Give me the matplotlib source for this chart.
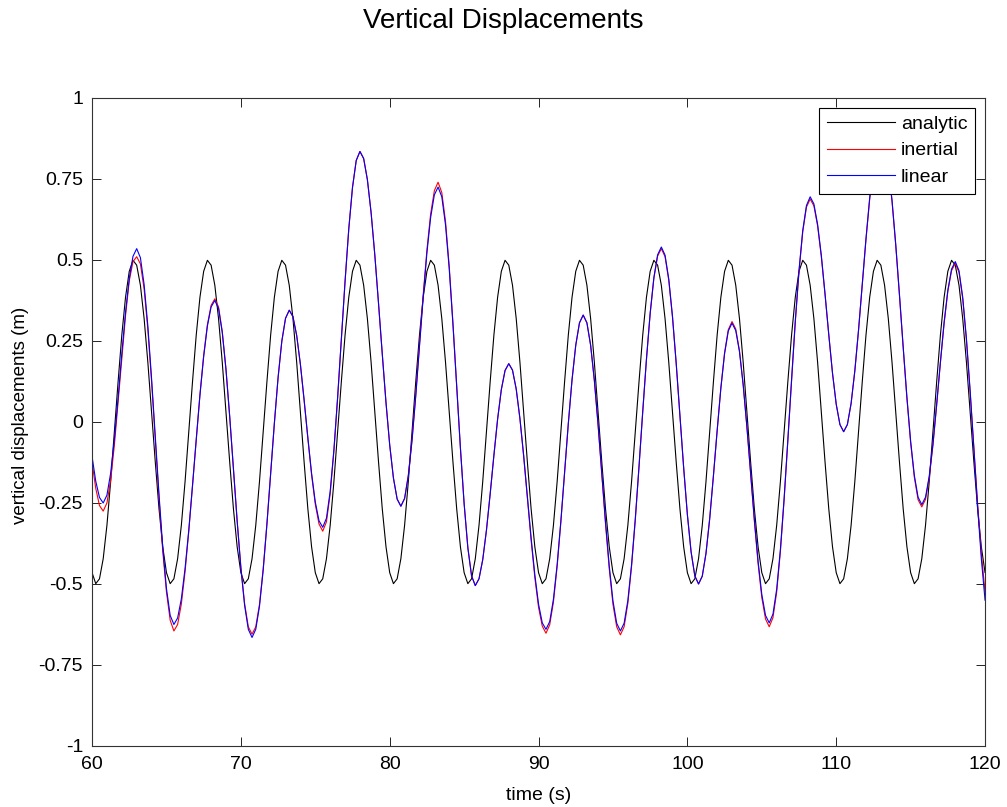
import numpy as np
import matplotlib
matplotlib.use("Agg")
import matplotlib.pyplot as plt

plt.rcParams["font.family"] = ["Liberation Sans", "DejaVu Sans"]

# time axis, 0.25 s steps from 60 to 120 s
t = np.linspace(60, 120, 241)

analytic = [
    -0.465, -0.499, -0.484, -0.422, -0.319, -0.184, -0.031, 0.124, 0.268, 0.385, 0.465, 0.499, 0.484, 0.422, 0.319, 0.184, 0.031, -0.124, -0.268, -0.385,
    -0.465, -0.499, -0.484, -0.422, -0.319, -0.184, -0.031, 0.124, 0.268, 0.385, 0.465, 0.499, 0.484, 0.422, 0.319, 0.184, 0.031, -0.124, -0.268, -0.385,
    -0.465, -0.499, -0.484, -0.422, -0.319, -0.184, -0.031, 0.124, 0.268, 0.385, 0.465, 0.499, 0.484, 0.422, 0.319, 0.184, 0.031, -0.124, -0.268, -0.385,
    -0.465, -0.499, -0.484, -0.422, -0.319, -0.184, -0.031, 0.124, 0.268, 0.385, 0.465, 0.499, 0.484, 0.422, 0.319, 0.184, 0.031, -0.124, -0.268, -0.385,
    -0.465, -0.499, -0.484, -0.422, -0.319, -0.184, -0.031, 0.124, 0.268, 0.385, 0.465, 0.499, 0.484, 0.422, 0.319, 0.184, 0.031, -0.124, -0.268, -0.385,
    -0.465, -0.499, -0.484, -0.422, -0.319, -0.184, -0.031, 0.124, 0.268, 0.385, 0.465, 0.499, 0.484, 0.422, 0.319, 0.184, 0.031, -0.124, -0.268, -0.385,
    -0.465, -0.499, -0.484, -0.422, -0.319, -0.184, -0.031, 0.124, 0.268, 0.385, 0.465, 0.499, 0.484, 0.422, 0.319, 0.184, 0.031, -0.124, -0.268, -0.385,
    -0.465, -0.499, -0.484, -0.422, -0.319, -0.184, -0.031, 0.124, 0.268, 0.385, 0.465, 0.499, 0.484, 0.422, 0.319, 0.184, 0.031, -0.124, -0.268, -0.385,
    -0.465, -0.499, -0.484, -0.422, -0.319, -0.184, -0.031, 0.124, 0.268, 0.385, 0.465, 0.499, 0.484, 0.422, 0.319, 0.184, 0.031, -0.124, -0.268, -0.385,
    -0.465, -0.499, -0.484, -0.422, -0.319, -0.184, -0.031, 0.124, 0.268, 0.385, 0.465, 0.499, 0.484, 0.422, 0.319, 0.184, 0.031, -0.124, -0.268, -0.385,
    -0.465, -0.499, -0.484, -0.422, -0.319, -0.184, -0.031, 0.124, 0.268, 0.385, 0.465, 0.499, 0.484, 0.422, 0.319, 0.184, 0.031, -0.124, -0.268, -0.385,
    -0.465, -0.499, -0.484, -0.422, -0.319, -0.184, -0.031, 0.124, 0.268, 0.385, 0.465, 0.499, 0.484, 0.422, 0.319, 0.184, 0.031, -0.124, -0.268, -0.385,
    -0.465,
]

inertial = [
    -0.125, -0.205, -0.258, -0.275, -0.250, -0.180, -0.072, 0.062,
    0.200, 0.328, 0.435, 0.495, 0.510, 0.488, 0.410, 0.285,
    0.125, -0.055, -0.235, -0.398, -0.525, -0.612, -0.645, -0.625,
    -0.562, -0.462, -0.338, -0.198, -0.054, 0.084, 0.205, 0.300,
    0.360, 0.380, 0.355, 0.279, 0.163, 0.017, -0.144, -0.304,
    -0.448, -0.560, -0.632, -0.655, -0.632, -0.563, -0.453, -0.314,
    -0.159, -0.004, 0.137, 0.249, 0.320, 0.345, 0.325, 0.267,
    0.177, 0.066, -0.051, -0.163, -0.254, -0.315, -0.337, -0.308,
    -0.222, -0.090, 0.074, 0.254, 0.434, 0.596, 0.724, 0.807,
    0.835, 0.813, 0.748, 0.646, 0.515, 0.365, 0.210, 0.060,
    -0.071, -0.173, -0.238, -0.260, -0.236, -0.165, -0.055, 0.084,
    0.238, 0.392, 0.531, 0.642, 0.714, 0.740, 0.708, 0.619,
    0.480, 0.305, 0.112, -0.080, -0.252, -0.388, -0.475, -0.505,
    -0.484, -0.425, -0.334, -0.222, -0.103, 0.009, 0.100, 0.159,
    0.180, 0.160, 0.101, 0.009, -0.106, -0.235, -0.364, -0.480,
    -0.572, -0.630, -0.652, -0.626, -0.556, -0.446, -0.309, -0.157,
    -0.005, 0.130, 0.237, 0.306, 0.330, 0.306, 0.236, 0.127,
    -0.010, -0.163, -0.315, -0.453, -0.563, -0.632, -0.657, -0.632,
    -0.560, -0.446, -0.303, -0.139, 0.031, 0.193, 0.334, 0.444,
    0.512, 0.535, 0.510, 0.437, 0.323, 0.179, 0.019, -0.141,
    -0.286, -0.401, -0.475, -0.500, -0.476, -0.405, -0.297, -0.165,
    -0.026, 0.106, 0.214, 0.285, 0.310, 0.287, 0.220, 0.115,
    -0.016, -0.161, -0.306, -0.437, -0.542, -0.608, -0.632, -0.604,
    -0.525, -0.400, -0.240, -0.058, 0.129, 0.308, 0.464, 0.586,
    0.663, 0.688, 0.667, 0.605, 0.510, 0.393, 0.269, 0.151,
    0.055, -0.008, -0.030, -0.008, 0.057, 0.157, 0.283, 0.423,
    0.563, 0.688, 0.788, 0.853, 0.875, 0.852, 0.786, 0.681,
    0.545, 0.390, 0.229, 0.073, -0.064, -0.171, -0.240, -0.262,
    -0.239, -0.172, -0.071, 0.052, 0.182, 0.304, 0.403, 0.467,
    0.490, 0.462, 0.380, 0.252, 0.090, -0.082, -0.252, -0.405,
    -0.525,
]

linear = [
    -0.106, -0.183, -0.233, -0.250, -0.226, -0.158, -0.054, 0.074,
    0.211, 0.339, 0.443, 0.511, 0.535, 0.507, 0.424, 0.296,
    0.134, -0.045, -0.224, -0.386, -0.514, -0.597, -0.625, -0.605,
    -0.546, -0.452, -0.333, -0.196, -0.054, 0.083, 0.202, 0.296,
    0.355, 0.375, 0.350, 0.276, 0.161, 0.016, -0.145, -0.306,
    -0.451, -0.566, -0.640, -0.665, -0.640, -0.569, -0.457, -0.316,
    -0.160, -0.004, 0.137, 0.249, 0.320, 0.345, 0.325, 0.267,
    0.178, 0.068, -0.048, -0.158, -0.247, -0.305, -0.325, -0.297,
    -0.214, -0.086, 0.076, 0.255, 0.434, 0.596, 0.724, 0.807,
    0.835, 0.813, 0.748, 0.646, 0.515, 0.365, 0.210, 0.060,
    -0.071, -0.173, -0.238, -0.260, -0.236, -0.166, -0.057, 0.080,
    0.233, 0.385, 0.522, 0.631, 0.701, 0.725, 0.695, 0.608,
    0.472, 0.300, 0.110, -0.080, -0.252, -0.388, -0.475, -0.505,
    -0.484, -0.425, -0.334, -0.222, -0.103, 0.009, 0.100, 0.159,
    0.180, 0.160, 0.102, 0.011, -0.103, -0.230, -0.357, -0.471,
    -0.562, -0.620, -0.640, -0.616, -0.547, -0.440, -0.305, -0.155,
    -0.005, 0.130, 0.237, 0.306, 0.330, 0.306, 0.237, 0.129,
    -0.007, -0.158, -0.308, -0.444, -0.552, -0.621, -0.645, -0.621,
    -0.551, -0.440, -0.299, -0.137, 0.032, 0.194, 0.336, 0.446,
    0.516, 0.540, 0.515, 0.441, 0.326, 0.181, 0.020, -0.141,
    -0.286, -0.401, -0.475, -0.500, -0.476, -0.406, -0.299, -0.167,
    -0.028, 0.104, 0.211, 0.281, 0.305, 0.282, 0.217, 0.114,
    -0.015, -0.158, -0.300, -0.429, -0.532, -0.597, -0.620, -0.593,
    -0.516, -0.393, -0.236, -0.056, 0.131, 0.311, 0.468, 0.591,
    0.668, 0.695, 0.673, 0.610, 0.514, 0.395, 0.270, 0.151,
    0.055, -0.008, -0.030, -0.008, 0.057, 0.158, 0.284, 0.425,
    0.566, 0.692, 0.793, 0.858, 0.880, 0.857, 0.790, 0.684,
    0.548, 0.393, 0.232, 0.077, -0.059, -0.165, -0.232, -0.255,
    -0.232, -0.167, -0.068, 0.055, 0.185, 0.308, 0.407, 0.472,
    0.495, 0.467, 0.385, 0.257, 0.096, -0.083, -0.261, -0.422,
    -0.550,
]

xticks = [60, 70, 80, 90, 100, 110, 120]
yticks = [-1, -0.75, -0.5, -0.25, 0, 0.25, 0.5, 0.75, 1]
ytick_labels = ["-1", "-0.75", "-0.5", "-0.25", "0", "0.25", "0.5", "0.75", "1"]

fig = plt.figure(figsize=(10.07, 8.07), dpi=100)
ax = fig.add_axes([0.0914, 0.0756, 0.8868, 0.803])

ax.plot(t, analytic, color="k", lw=0.8, label="analytic")
ax.plot(t, inertial, color="r", lw=0.8, label="inertial")
ax.plot(t, linear, color="b", lw=0.8, label="linear")

ax.set_xlim(60, 120)
ax.set_ylim(-1, 1)
ax.set_xticks(xticks)
ax.set_yticks(yticks)
ax.set_yticklabels(ytick_labels)
ax.tick_params(direction="in", top=True, right=True, length=6.5, width=0.6,
               labelsize=14, colors="k")
ax.tick_params(axis="y", pad=6.5)
ax.tick_params(axis="x", pad=7.5)
for s in ax.spines.values():
    s.set_linewidth(0.8)
    s.set_color("#333333")

ax.set_xlabel("time (s)", fontsize=14)
ax.set_ylabel("vertical displacements (m)", fontsize=13.5)
ax.xaxis.set_label_coords(0.5, -0.063)
ax.yaxis.set_label_coords(-0.071, 0.51)

fig.suptitle("Vertical Displacements", y=1 - 21 / 807, va="center", fontsize=20)

leg = ax.legend(loc="upper right", fancybox=False, edgecolor="k", framealpha=1,
                fontsize=14, handlelength=3.5, handletextpad=0.3,
                labelspacing=0.45, borderaxespad=0.5, borderpad=0.4)
leg.get_frame().set_linewidth(0.8)

plt.savefig("out.png", dpi=100)
